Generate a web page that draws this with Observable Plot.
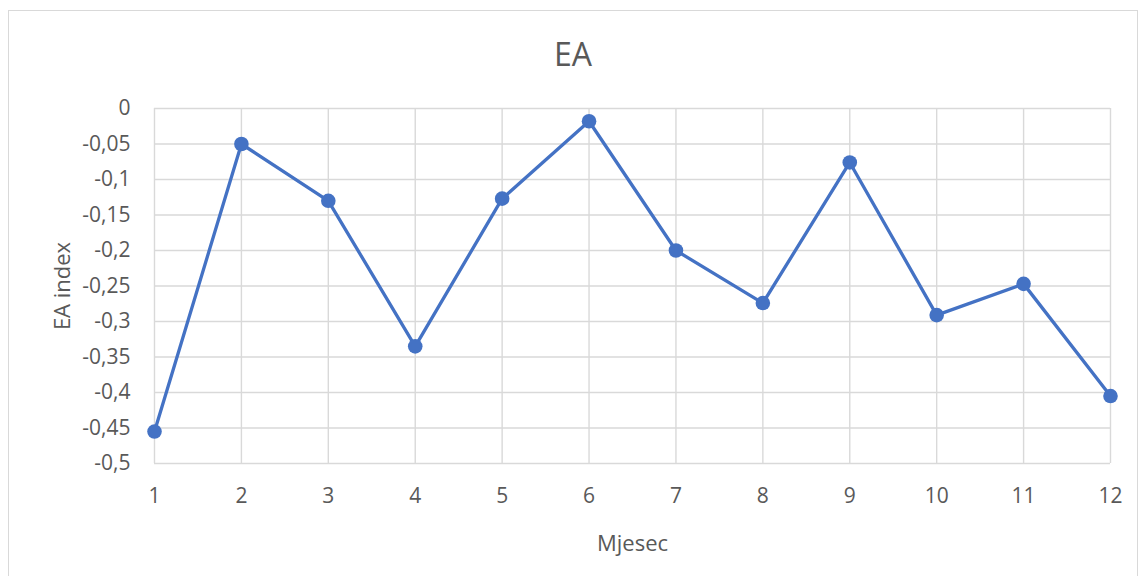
<!DOCTYPE html>
<html>
<head>
<meta charset="utf-8">
<script src="https://cdn.jsdelivr.net/npm/d3@7"></script>
<script src="https://cdn.jsdelivr.net/npm/@observablehq/plot@0.6"></script>
<style>
  html, body { margin: 0; padding: 0; background: #fff; }
  #frame {
    position: absolute; left: 8px; top: 10px;
    width: 1128px; height: 570px;
    border: 1px solid #d9d9d9; box-sizing: content-box;
    font-family: "Open Sans", sans-serif; color: #595959;
    overflow: hidden;
  }
  #title {
    height: 70px; line-height: 86px; text-align: center;
    font-size: 32px; color: #595959;
  }
</style>
</head>
<body>
<div id="frame">
  <div id="title">EA</div>
  <div id="chart"></div>
</div>
<script>
const months = [1, 2, 3, 4, 5, 6, 7, 8, 9, 10, 11, 12];
const eaIndex = [-0.455, -0.05, -0.13, -0.335, -0.127, -0.018, -0.2, -0.274, -0.076, -0.291, -0.247, -0.405];
const yTicks = [0, -0.05, -0.1, -0.15, -0.2, -0.25, -0.3, -0.35, -0.4, -0.45, -0.5];
const xLabel = "Mjesec";
const yLabel = "EA index";

const data = months.map((m, i) => ({month: m, value: eaIndex[i]}));
const fmt = v => String(+v.toFixed(2)).replace(".", ",").replace(/^-0$/, "0");

const chart = Plot.plot({
  width: 1128,
  height: 490,
  marginLeft: 145,
  marginRight: 27,
  marginTop: 27,
  marginBottom: 108,
  style: {fontFamily: "'Open Sans', sans-serif", fontSize: "21px", color: "#595959", background: "transparent"},
  x: {domain: [1, 12], ticks: months, tickFormat: d => String(d)},
  y: {domain: [-0.5, 0], ticks: yTicks, tickFormat: fmt},
  marks: [
    Plot.gridX(months, {stroke: "#d9d9d9", strokeOpacity: 1, strokeWidth: 1.4}),
    Plot.gridY(yTicks, {stroke: "#d9d9d9", strokeOpacity: 1, strokeWidth: 1.4}),
    Plot.axisX(months, {tickSize: 0, tickPadding: 25, fontSize: 21, label: null, fill: "#595959"}),
    Plot.axisX({tickSize: 0, ticks: [], label: xLabel, fontSize: 22, labelAnchor: "center", labelArrow: "none", labelOffset: 87, fill: "#595959"}),
    Plot.axisY(yTicks, {tickSize: 0, tickPadding: 24, fontSize: 21, tickFormat: fmt, label: null, fill: "#595959"}),
    Plot.axisY({tickSize: 0, ticks: [], label: yLabel, fontSize: 22, labelAnchor: "center", labelArrow: "none", labelOffset: 100, fill: "#595959"}),
    Plot.line(data, {x: "month", y: "value", stroke: "#4472c4", strokeWidth: 3.3}),
    Plot.dot(data, {x: "month", y: "value", r: 7.3, fill: "#4472c4", stroke: "none"})
  ]
});
document.getElementById("chart").appendChild(chart);
</script>
</body>
</html>
